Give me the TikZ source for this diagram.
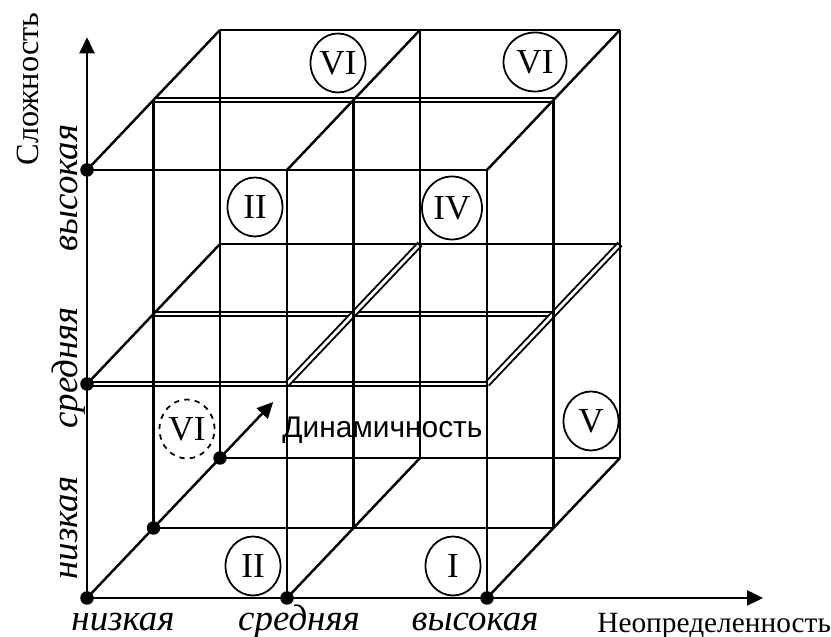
\documentclass[tikz,border=0pt]{standalone}
\usepackage{fontspec}
\setmainfont{Liberation Serif}
\newfontfamily\arialfont{Liberation Sans}
\usetikzlibrary{shapes.geometric, arrows.meta}

\begin{document}
\begin{tikzpicture}[
  x={(4cm,0)}, y={(0,4.28cm)}, z={(1.33cm,1.4cm)},
  wire/.style={line width=1.4pt},
  dbl/.style={line width=1.1pt, double, double distance=1.6pt},
  axisarr/.style={line width=1.4pt, -{Triangle[length=0.32cm, width=0.3cm]}},
  bullet/.style={circle, fill, inner sep=0pt, minimum size=0.27cm},
  zone/.style={ellipse, draw, line width=1pt, minimum width=1.1cm,
               minimum height=1.18cm, inner sep=0pt, font=\fontsize{20}{24}\selectfont},
  lvl/.style={font=\itshape\fontsize{21}{25}\selectfont, inner sep=0pt, anchor=base},
  axlabel/.style={font=\fontsize{18.4}{22}\selectfont, inner sep=0pt}
]
  \useasboundingbox (-1.74cm,-0.78cm) rectangle (14.88cm,11.96cm);

  % lattice points (i = uncertainty, j = complexity, k = dynamics)
  \foreach \i in {0,1,2}
    \foreach \j in {0,1,2}
      \foreach \k in {0,1,2}
        \coordinate (p\i\j\k) at (\i,\j,\k);

  % double edges where the boxes are stacked
  \draw[dbl] (p010) -- (p210);
  \draw[dbl] (p011) -- (p211);
  \draw[dbl] (p021) -- (p221);
  \draw[dbl] (p110) -- (p112);
  \draw[dbl] (p210) -- (p212);

  % single edges
  \foreach \i/\k in {0/1,0/2,1/0,1/1,1/2,2/0,2/1,2/2}
    \draw[wire] (p\i0\k) -- (p\i2\k);
  \foreach \j/\k in {0/1,0/2,1/2,2/0,2/2}
    \draw[wire] (p0\j\k) -- (p2\j\k);
  \foreach \i/\j in {0/1,0/2,1/0,1/2,2/0,2/2}
    \draw[wire] (p\i\j0) -- (p\i\j2);

  % axes
  \coordinate (ytip) at (0,2.62,0);
  \coordinate (xtip) at (3.38,0,0);
  \coordinate (ztip) at (0,0,2.8);
  \draw[axisarr] (p000) -- (ytip);
  \draw[axisarr] (p000) -- (xtip);
  \draw[axisarr] (p000) -- (ztip);

  \foreach \p in {p000,p100,p200,p010,p020,p001,p002}
    \node[bullet] (d\p) at (\p) {};

  % zones
  \node[zone] (zvia) at (5.02cm,10.70cm) {VI};
  \node[zone, minimum width=1.26cm] (zvib) at (8.96cm,10.72cm) {VI};
  \node[zone] (ziia) at (3.36cm,7.82cm) {II};
  \node[zone, minimum width=1.2cm, minimum height=1.26cm] (ziv) at (7.30cm,7.80cm) {IV};
  \node[zone] (zv) at (10.08cm,3.54cm) {V};
  \node[zone, dashed] (zvic) at (2.0cm,3.38cm) {VI};
  \node[zone] (ziib) at (3.32cm,0.64cm) {II};
  \node[zone] (zi) at (7.32cm,0.64cm) {I};

  % axis names
  \node[axlabel, rotate=90] (ylab) at (-1.18cm,10.18cm) {Сложность};
  \node[axlabel, font=\fontsize{16.7}{20}\selectfont, anchor=base west]
    (xlab) at (10.20cm,-0.70cm) {Неопределенность};
  \node[font=\arialfont\fontsize{17}{20}\selectfont, anchor=base west,
        inner sep=0pt] (zlab) at (3.90cm,3.20cm) {Динамичность};

  % levels
  \node[lvl] (xlo) at (0.72cm,-0.66cm) {низкая};
  \node[lvl] (xmid) at (4.24cm,-0.66cm) {средняя};
  \node[lvl] (xhi) at (7.76cm,-0.66cm) {высокая};
  \node[lvl, rotate=90] (ylo) at (-0.20cm,1.40cm) {низкая};
  \node[lvl, rotate=90] (ymid) at (-0.20cm,4.60cm) {средняя};
  \node[lvl, rotate=90] (yhi) at (-0.20cm,8.20cm) {высокая};
\end{tikzpicture}
\end{document}
